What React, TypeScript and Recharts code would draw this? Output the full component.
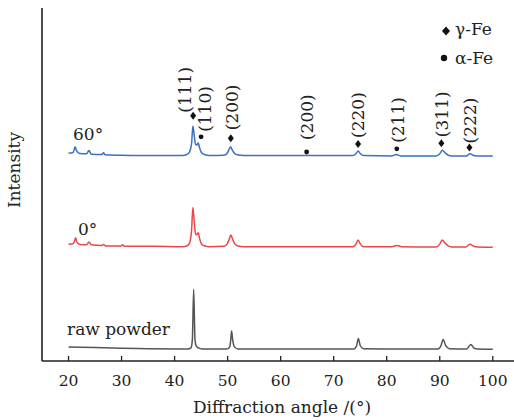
import { ComposedChart, Line, Scatter, XAxis, YAxis, Customized } from 'recharts';

type Pt = [number, number];

// 2θ (deg) vs intensity (a.u., curves already stacked)
const rawPowder: Pt[] = [
  [20, 40], [25, 38], [30, 36], [35, 35], [42.5, 34], [43.1, 38], [43.35, 60], [43.6, 203],
  [43.85, 60], [44.1, 42], [44.5, 37], [45.2, 34], [49.9, 34], [50.4, 40], [50.6, 62],
  [50.75, 85], [50.95, 60], [51.3, 40], [52, 34], [60, 34], [73.8, 34], [74.3, 42],
  [74.65, 64], [75.0, 44], [75.6, 35], [82, 34], [89.7, 34], [90.2, 42], [90.65, 61],
  [91.1, 44], [91.8, 35], [95.1, 34], [95.85, 47], [96.5, 36], [97.2, 34], [100, 33],
];

const deg0: Pt[] = [
  [20, 331], [20.8, 332], [21.15, 340], [21.35, 349], [21.6, 336], [22.2, 330], [23.4, 329],
  [23.85, 337], [24.3, 329], [26.2, 327], [26.6, 330], [27.0, 326], [29.9, 326], [30.2, 329],
  [30.5, 325], [36, 325], [41.5, 324], [42.3, 326], [42.8, 333], [43.2, 370], [43.45, 435],
  [43.7, 395], [43.95, 360], [44.2, 358], [44.45, 363], [44.75, 345], [45.1, 331], [45.7, 326],
  [46.5, 324], [49.3, 325], [49.9, 331], [50.3, 345], [50.6, 357], [50.9, 347], [51.3, 333],
  [51.9, 326], [53, 324], [65, 324], [73.6, 324], [74.2, 331], [74.6, 343], [75.0, 332],
  [75.7, 324], [81.0, 324], [81.9, 327.5], [82.8, 324], [89.3, 323], [90.0, 331], [90.45, 343],
  [91.0, 334], [91.6, 326], [92.3, 323], [94.9, 323], [95.7, 331], [96.4, 325], [97.2, 323],
  [100, 322],
];

const deg60: Pt[] = [
  [20, 589], [20.8, 590], [21.05, 598], [21.25, 607], [21.5, 596], [22.1, 588], [23.4, 587],
  [23.85, 596], [24.3, 586], [26.3, 585], [26.6, 590], [26.9, 584], [30, 583], [36, 582],
  [41.5, 582], [42.3, 585], [42.8, 592], [43.2, 615], [43.45, 666], [43.7, 640], [43.95, 614],
  [44.2, 612], [44.45, 618], [44.7, 605], [45.0, 592], [45.6, 585], [46.5, 582], [49.3, 583],
  [49.9, 588], [50.3, 600], [50.55, 607], [50.8, 600], [51.2, 590], [51.8, 584], [53, 582],
  [65, 582], [73.6, 582], [74.2, 587], [74.6, 595], [75.0, 588], [75.7, 582], [81.0, 581],
  [81.8, 585], [82.6, 581], [89.3, 581], [90.0, 587], [90.5, 597], [91.0, 590], [91.6, 583],
  [92.3, 581], [95.0, 581], [95.7, 587], [96.4, 582], [97, 581], [100, 581],
];

const gammaAngles = [43.5, 50.6, 74.6, 90.3, 95.6];
const gammaLevels = [695, 631, 615, 617, 605];
const gammaHkl = ['(111)', '(200)', '(220)', '(311)', '(222)'];

const alphaAngles = [45.0, 64.9, 81.9];
const alphaLevels = [635, 592, 601];
const alphaHkl = ['(110)', '(200)', '(211)'];

const xTicks = [20, 30, 40, 50, 60, 70, 80, 90, 100];

const toRows = (pts: Pt[]) => pts.map(([angle, intensity]) => ({ angle, intensity }));

const gammaRows = gammaAngles.map((angle, i) => ({ angle, intensity: gammaLevels[i], hkl: gammaHkl[i], phase: 'g' }));
const alphaRows = alphaAngles.map((angle, i) => ({ angle, intensity: alphaLevels[i], hkl: alphaHkl[i], phase: 'a' }));

// label nudges (dx from marker, gap above marker)
const nudge: Record<string, [number, number]> = {
  'g(111)': [-8, 3], 'a(110)': [4, 5], 'g(200)': [1, 8], 'a(200)': [0, 12],
  'g(220)': [0, 6], 'a(211)': [1, 6], 'g(311)': [1, 6], 'g(222)': [1, 4],
};

const FONT = '"DejaVu Serif", "Liberation Serif", serif';
const INK = '#222';

function Diamond({ x, y, w, h }: { x: number; y: number; w: number; h: number }) {
  return <path d={`M${x},${y - h / 2}L${x + w / 2},${y}L${x},${y + h / 2}L${x - w / 2},${y}Z`} fill="#111" />;
}

function PeakMark(props: any) {
  const { cx, cy, payload } = props;
  const [dx, gap] = nudge[payload.phase + payload.hkl] || [0, 6];
  const lx = cx + dx;
  const ly = cy - gap;
  return (
    <g>
      {payload.phase === 'g' ? <Diamond x={cx} y={cy} w={6} h={8} /> : <circle cx={cx} cy={cy} r={2.4} fill="#111" />}
      <text x={lx} y={ly} transform={`rotate(-90 ${lx} ${ly})`} textAnchor="start" dominantBaseline="central"
        fontFamily={FONT} fontSize={17} fill={INK}>{payload.hkl}</text>
    </g>
  );
}

function AngleTick(props: any) {
  const { x, y, payload } = props;
  return (
    <g>
      <line x1={x} y1={y} x2={x} y2={y - 5} stroke={INK} strokeWidth={1.3} />
      <text x={x} y={y + 25} textAnchor="middle" fontFamily={FONT} fontSize={15.5} fill={INK}>{payload.value}</text>
    </g>
  );
}

function Annotations() {
  const t = { fontFamily: FONT, fontSize: 17, fill: INK };
  return (
    <g>
      <text x={73} y={140} {...t}>60°</text>
      <text x={78} y={235} {...t}>0°</text>
      <text x={67} y={335} {...t}>raw powder</text>
      <Diamond x={446} y={31} w={8} h={9} />
      <text x={455} y={35} {...t}>γ-Fe</text>
      <circle cx={444} cy={58} r={3.2} fill="#111" />
      <text x={455} y={63.5} {...t}>α-Fe</text>
      <text x={20} y={170} transform="rotate(-90 20 170)" textAnchor="middle" {...t}>Intensity</text>
      <text x={282} y={413} textAnchor="middle" {...t}>Diffraction angle /(°)</text>
    </g>
  );
}

export default function App() {
  return (
    <div style={{ position: 'absolute', left: 0, top: 0, width: 514, height: 420, background: '#fff', overflow: 'hidden' }}>
      <style>{'html,body{margin:0;overflow:hidden;}'}</style>
      <ComposedChart width={514} height={420} margin={{ top: 8, right: 0, bottom: 0, left: 0 }}>
        <XAxis dataKey="angle" type="number" domain={[15, 104]} ticks={xTicks} allowDataOverflow
          height={59} tickSize={0} tickMargin={0} tickLine={false} tick={<AngleTick />}
          axisLine={{ stroke: INK, strokeWidth: 1.6 }} />
        <XAxis xAxisId="top" orientation="top" type="number" domain={[15, 104]} height={0}
          tick={false} tickLine={false} axisLine={{ stroke: INK, strokeWidth: 1.6 }} />
        <YAxis type="number" domain={[0, 1000]} width={42} tick={false} tickLine={false}
          axisLine={{ stroke: INK, strokeWidth: 1.6 }} />
        <Line data={toRows(rawPowder)} dataKey="intensity" type="monotone" stroke="#555" strokeWidth={1.5} dot={false} isAnimationActive={false} />
        <Line data={toRows(deg0)} dataKey="intensity" type="monotone" stroke="#e8474c" strokeWidth={1.5} dot={false} isAnimationActive={false} />
        <Line data={toRows(deg60)} dataKey="intensity" type="monotone" stroke="#3d6fc2" strokeWidth={1.5} dot={false} isAnimationActive={false} />
        <Scatter data={gammaRows} dataKey="intensity" shape={<PeakMark />} isAnimationActive={false} />
        <Scatter data={alphaRows} dataKey="intensity" shape={<PeakMark />} isAnimationActive={false} />
        <Customized component={Annotations} />
      </ComposedChart>
    </div>
  );
}
